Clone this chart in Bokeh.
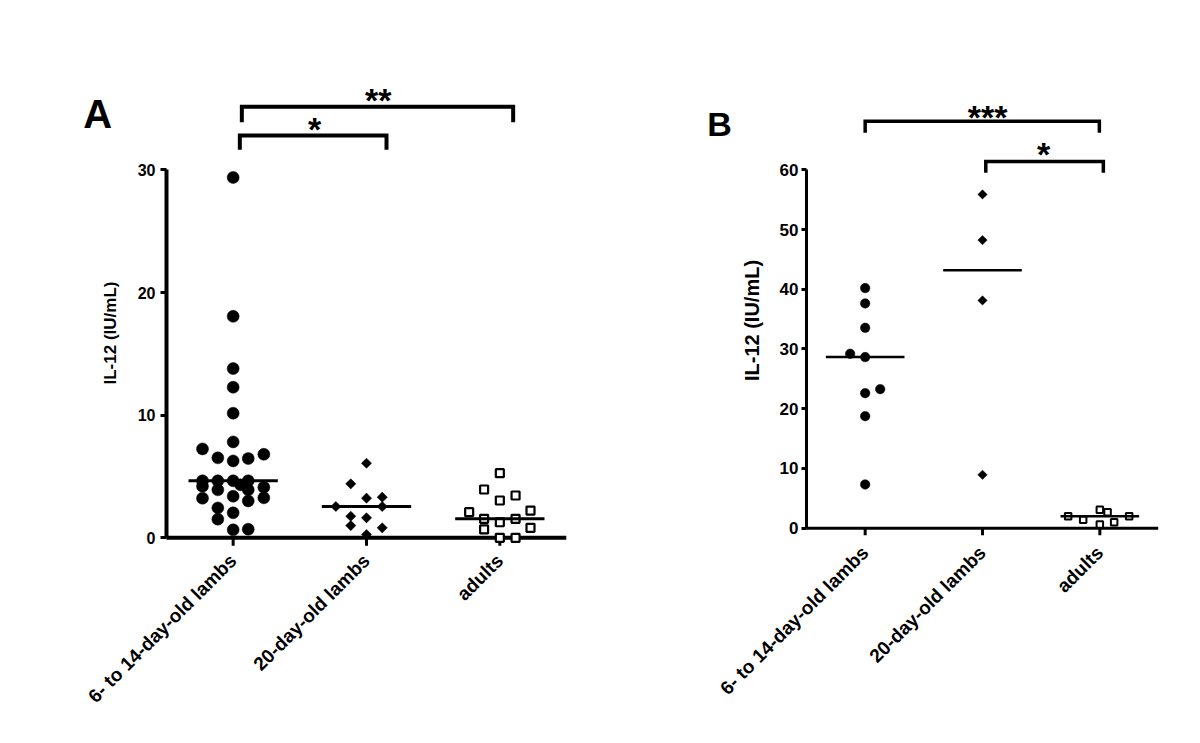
import numpy as np
from math import pi
from bokeh.plotting import figure
from bokeh.layouts import row
from bokeh.models import Range1d, FixedTicker, ColumnDataSource
from bokeh.core.properties import value
from bokeh.embed import file_html
from bokeh.resources import INLINE

FONT = "Liberation Sans"

groups = ["6- to 14-day-old lambs", "20-day-old lambs", "adults"]
group_pos = [1, 2, 3]
axis_x = (0.5, 3.5)

# ---------------- Panel A data (IL-12, IU/mL) ----------------
a_young = [29.39, 18.06, 13.80, 12.28, 10.16, 7.82, 7.25, 6.52, 6.27, 6.46, 6.81,
           4.65, 4.65, 4.65, 4.65, 4.21, 4.32, 3.91, 3.91, 4.13, 3.23, 3.39, 3.01,
           3.26, 2.44, 2.04, 1.52, 0.65, 0.70]
a_young_dx = [0, 0, 0, 0, 0, 0, -0.23, -0.115, 0, 0.113, 0.23,
              -0.23, -0.115, 0, 0.113, -0.23, 0.055, -0.115, 0.113, 0.23, -0.23, 0, 0.113,
              0.23, -0.115, 0, -0.115, 0, 0.113]
a_d20 = [6.08, 4.40, 3.23, 3.31, 2.55, 2.55, 1.76, 1.63, 1.00, 0.81, 0.27]
a_d20_dx = [0, -0.118, 0, 0.118, -0.23, 0.118, -0.118, 0, -0.118, 0.118, 0]
a_adult = [5.27, 3.94, 3.45, 3.04, 2.09, 2.22, 1.55, 1.55, 1.27, 0.68, 0.81, 0.0, 0.0]
a_adult_dx = [0, -0.118, 0.118, 0, -0.23, 0.23, -0.118, 0.118, 0, -0.118, 0.23, 0, 0.118]
a_yticks = [0, 10, 20, 30]
a_bracket_x0 = [1.05, 1.065]
a_bracket_x1 = [2.15, 3.10]
a_bracket_top = [32.8, 35.16]
a_bracket_bottom = [31.65, 33.88]
a_star_x = [1.611, 2.088]
a_star_y = [33.34, 35.7]
a_stars = ["*", "**"]

# ---------------- Panel B data (IL-12, IU/mL) ----------------
b_young = [40.19, 37.63, 33.55, 29.20, 28.64, 23.28, 22.61, 18.76, 7.32]
b_young_dx = [0, 0, 0, -0.128, 0, 0.128, 0, 0, 0]
b_d20 = [55.88, 48.23, 38.13, 8.94]
b_d20_dx = [0, 0, 0, 0]
b_adult = [2.01, 1.41, 3.08, 2.68, 0.62, 1.00, 2.01]
b_adult_dx = [-0.27, -0.142, 0, 0.066, 0, 0.122, 0.25]
b_yticks = [0, 10, 20, 30, 40, 50, 60]
b_bracket_x0 = [1.0, 2.028]
b_bracket_x1 = [2.996, 3.03]
b_bracket_top = [68.14, 61.39]
b_bracket_bottom = [66.19, 59.5]
b_star_x = [2.043, 2.52]
b_star_y = [68.81, 62.56]
b_stars = ["***", "*"]

MED_HALF = 0.335


def make_panel(width, min_left, min_right, x_start, y_start, y_end,
               y_top_bound, yticks, series, brackets, stars, letter, letter_xy,
               letter_size, ylab_xy, ylab_size, ytick_size, axis_w, tick_w,
               ytick_out, xtick_len, ystandoff, xstandoff, med_w, bracket_w):
    p = figure(width=width, height=743, x_range=Range1d(x_start, axis_x[1]),
               y_range=Range1d(y_start, y_end), output_backend="svg",
               toolbar_location=None, min_border_left=min_left,
               min_border_right=min_right, min_border_top=70,
               min_border_bottom=196)
    p.outline_line_color = None
    p.xgrid.visible = False
    p.ygrid.visible = False
    p.background_fill_color = "white"

    # y axis, drawn at the left end of the category axis
    p.yaxis.fixed_location = axis_x[0]
    p.yaxis.ticker = FixedTicker(ticks=yticks)
    p.yaxis.bounds = (0, y_top_bound)
    p.yaxis.axis_line_width = axis_w
    p.yaxis.major_tick_line_width = tick_w
    p.yaxis.major_tick_out = ytick_out
    p.yaxis.major_tick_in = 0
    p.yaxis.minor_tick_line_color = None
    p.yaxis.major_label_text_font = FONT
    p.yaxis.major_label_text_font_style = "bold"
    p.yaxis.major_label_text_font_size = ytick_size
    p.yaxis.major_label_text_color = "black"
    p.yaxis.major_label_standoff = ystandoff

    # x axis: baseline at y = 0 with short ticks hanging below it
    p.segment(x0=[axis_x[0]], y0=[0], x1=[axis_x[1]], y1=[0],
              line_color="black", line_width=axis_w)
    p.segment(x0=group_pos, y0=[0] * len(group_pos), x1=group_pos,
              y1=[-xtick_len] * len(group_pos), line_color="black",
              line_width=tick_w)
    p.xaxis.ticker = FixedTicker(ticks=group_pos)
    p.xaxis.major_label_overrides = {gp: g for gp, g in zip(group_pos, groups)}
    p.xaxis.major_label_orientation = pi / 4
    p.xaxis.axis_line_color = None
    p.xaxis.major_tick_line_color = None
    p.xaxis.major_tick_out = 0
    p.xaxis.major_tick_in = 0
    p.xaxis.minor_tick_line_color = None
    p.xaxis.major_label_text_font = FONT
    p.xaxis.major_label_text_font_style = "bold"
    p.xaxis.major_label_text_font_size = "19px"
    p.xaxis.major_label_text_color = "black"
    p.xaxis.major_label_standoff = xstandoff

    # data points
    for (vals, dx, pos, kind, size, lw) in series:
        xs = [pos + d for d in dx]
        if kind == "circle":
            p.scatter(xs, vals, marker="circle", size=size, fill_color="black",
                      line_color="black", line_width=0.5)
        elif kind == "diamond":
            p.scatter(xs, vals, marker="square", angle=pi / 4, size=size,
                      fill_color="black", line_color="black", line_width=0.5)
        else:
            p.scatter(xs, vals, marker="square", size=size, fill_color="white",
                      line_color="black", line_width=lw)
        med = float(np.median(vals))
        p.segment(x0=[pos - MED_HALF], y0=[med], x1=[pos + MED_HALF], y1=[med],
                  line_color="black", line_width=med_w)

    # significance brackets
    x0s, x1s, tops, bots = brackets
    xs = [[a, a, b, b] for a, b in zip(x0s, x1s)]
    ys = [[lo, hi, hi, lo] for hi, lo in zip(tops, bots)]
    p.multi_line(xs, ys, line_color="black", line_width=bracket_w,
                 line_join="miter")
    sx, sy, st = stars
    src = ColumnDataSource(dict(x=sx, y=sy, t=st))
    p.text(x="x", y="y", text="t", source=src, text_font=value(FONT),
           text_font_style="bold", text_font_size="34px", text_align="center",
           text_baseline="alphabetic", text_color="black")

    # panel letter
    p.text(x=[letter_xy[0]], y=[letter_xy[1]], text=[letter], text_font=value(FONT),
           text_font_style="bold", text_font_size=letter_size, text_align="left",
           text_baseline="alphabetic", text_color="black")
    # y axis title
    p.text(x=[ylab_xy[0]], y=[ylab_xy[1]], text=["IL-12 (IU/mL)"], angle=pi / 2,
           text_font=value(FONT), text_font_style="bold", text_font_size=ylab_size,
           text_align="center", text_baseline="alphabetic", text_color="black")
    return p


pA = make_panel(
    648, 72, 82, -0.205, -0.791, 38.11, 30, a_yticks,
    [(a_young, a_young_dx, 1, "circle", 12, 0),
     (a_d20, a_d20_dx, 2, "diamond", 7.2, 0),
     (a_adult, a_adult_dx, 3, "square", 8, 2.2)],
    (a_bracket_x0, a_bracket_x1, a_bracket_top, a_bracket_bottom),
    (a_star_x, a_star_y, a_stars),
    "A", (-0.125, 34.56), "40px",
    (0.0763, 16.70), "17px", "16px", 4, 3, 6, 0.65, 5, 10, 3, 4)

pB = make_panel(
    542, 50, 32, -0.4205, -3.231, 76.62, 60, b_yticks,
    [(b_young, b_young_dx, 1, "circle", 9.5, 0),
     (b_d20, b_d20_dx, 2, "diamond", 6.6, 0),
     (b_adult, b_adult_dx, 3, "square", 6.5, 2)],
    (b_bracket_x0, b_bracket_x1, b_bracket_top, b_bracket_bottom),
    (b_star_x, b_star_y, b_stars),
    "B", (-0.346, 67.64), "34px",
    (0.0366, 34.77), "20px", "17px", 3, 3, 5, 1.17, 3, 2, 2.5, 3.5)

layout = row(pA, pB)
open("out.html", "w").write(file_html(layout, INLINE))
